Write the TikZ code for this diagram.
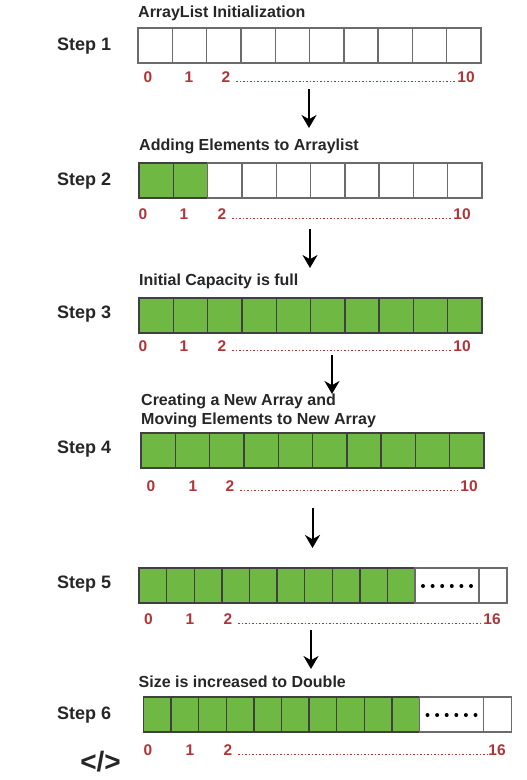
\documentclass[tikz,border=0pt]{standalone}
\usepackage{fontspec}
\setmainfont{Liberation Sans}
\usetikzlibrary{arrows.meta,positioning}
\definecolor{cellgreen}{RGB}{112,184,68}
\definecolor{indexred}{RGB}{176,52,56}
\definecolor{inkgray}{RGB}{38,38,38}
\tikzset{
    stepname/.style={anchor=west, inner sep=0pt, font=\fontsize{18}{20}\selectfont\bfseries, text=inkgray},
    caption/.style={anchor=west, inner sep=0pt, font=\fontsize{16}{18}\selectfont\bfseries, text=inkgray},
    idx/.style={inner sep=0pt, font=\fontsize{15.5}{17}\selectfont\bfseries, text=indexred},
    emptycell/.style={draw=black!58, line width=1.4pt, fill=white, anchor=north west, inner sep=0pt, outer sep=0pt, minimum height=35pt},
    fullcell/.style={emptycell, draw=black!75, fill=cellgreen},
    flow/.style={-{Stealth[length=13pt,width=15pt]}, line width=2pt, black},
    idxdots/.style={indexred, line width=1.3pt, dash pattern=on 1.5pt off 2pt}
}
\begin{document}
\begin{tikzpicture}[x=1pt,y=-1pt]
    \useasboundingbox (0,0) rectangle (527,780);
    % ten cell rows: name/left/top/filled cells
    \foreach \row/\left/\top/\filled in {one/138/28/0,two/139/163/2,three/139/298/10,four/141/433/10}{
        \foreach \i in {1,...,10}{
            \pgfmathsetmacro{\cellx}{\left+(\i-1)*34.3}
            \ifnum\i>\filled
                \node[emptycell, minimum width=34.3pt] (\row-\i) at (\cellx,\top) {};
            \else
                \node[fullcell, minimum width=34.3pt] (\row-\i) at (\cellx,\top) {};
            \fi
        }
    }
    % doubled rows
    \foreach \row/\left/\top in {five/139/568,six/143.5/697}{
        \foreach \i in {1,...,10}{
            \pgfmathsetmacro{\cellx}{\left+(\i-1)*27.6}
            \node[fullcell, minimum width=27.6pt] (\row-\i) at (\cellx,\top) {};
        }
        \node[emptycell, minimum width=64pt, anchor=north west] (\row-gap) at (\row-10.north east) {};
        \node[emptycell, minimum width=28pt, anchor=north west] (\row-last) at (\row-gap.north east) {};
        \foreach \j in {-2.5,-1.5,-0.5,0.5,1.5,2.5}
            \fill ([xshift=\j*9.6pt,yshift=-0.5pt]\row-gap.center) circle (2pt);
    }

    \foreach \n/\y in {1/46,2/181,3/314.5,4/449.5,5/584,6/715.5}
        \node[stepname] (step\n) at (57,\y) {Step \n};

    \node[caption] (capone) at (138,13) {ArrayList Initialization};
    \node[caption] (captwo) at (139,146) {Adding Elements to Arraylist};
    \node[caption] (capthree) at (139,281) {Initial Capacity is full};
    \node[caption] (capfour) at (141,401) {Creating a New Array and};
    \node[caption] (capfourb) at (141,420) {Moving Elements to New Array};
    \node[caption] (capsix) at (138.5,682) {Size is increased to Double};

    % index lines: name/zero/one/two/dots start/dots end/last/label/y
    \foreach \row/\a/\b/\c/\s/\e/\z/\last/\y in {
        one/148/189/226/236/455/466/10/77.5,
        two/143/184/222/232/451/462/10/214.5,
        three/143/184/222/232/451/462/10/346.5,
        four/151/193/230/240/458/469/10/486.5,
        five/148.5/190/228/238/481/492/16/619.5,
        six/148/190/228/238/487/497/16/750.5}{
        \node[idx] (\row-a) at (\a,\y) {0};
        \node[idx] (\row-b) at (\b,\y) {1};
        \node[idx] (\row-c) at (\c,\y) {2};
        \node[idx] (\row-z) at (\z,\y) {\last};
        \coordinate (\row-s) at (\s,\y+4);
        \coordinate (\row-e) at (\e,\y+4);
        \draw[idxdots] (\row-s) -- (\row-e);
    }

    \coordinate (flowa) at (309,89);
    \coordinate (flowb) at (309,128);
    \coordinate (flowc) at (310,229);
    \coordinate (flowd) at (310,268);
    \coordinate (flowe) at (332,355);
    \coordinate (flowf) at (332,394);
    \coordinate (flowg) at (312.5,508);
    \coordinate (flowh) at (312.5,548);
    \coordinate (flowi) at (311,630);
    \coordinate (flowj) at (311,669);
    \draw[flow] (flowa) -- (flowb);
    \draw[flow] (flowc) -- (flowd);
    \draw[flow] (flowe) -- (flowf);
    \draw[flow] (flowg) -- (flowh);
    \draw[flow] (flowi) -- (flowj);

    \node[inner sep=0pt, font=\fontsize{28}{30}\selectfont\bfseries, text=inkgray] (code) at (100.5,761.5) {</>};
\end{tikzpicture}
\end{document}
